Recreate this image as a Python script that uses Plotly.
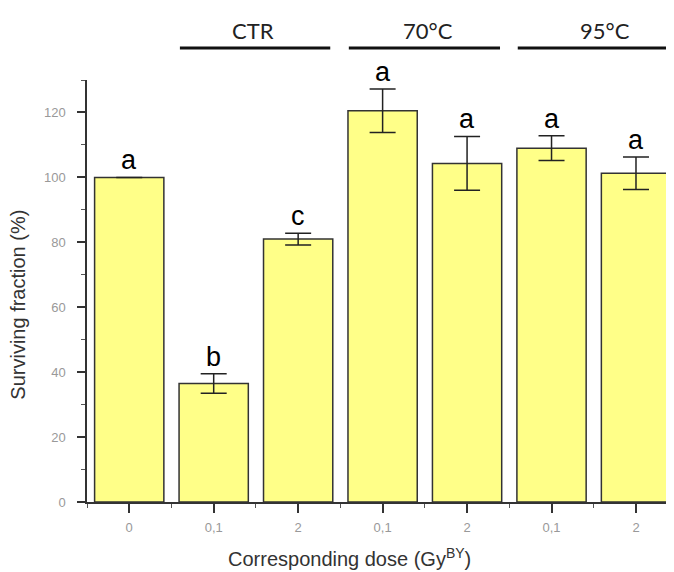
import plotly.graph_objects as go

categories = ["0", "0,1", "2", "0,1", "2", "0,1", "2"]
values = [100, 36.5, 81, 120.5, 104.3, 109, 101.3]
errors = [0, 3, 1.8, 6.7, 8.3, 3.8, 5]
letters = ["a", "b", "c", "a", "a", "a", "a"]
groups = ["CTR", "70°C", "95°C"]
group_spans = [(0.6, 2.38), (2.6, 4.39), (4.6, 6.42)]
group_label_x = [1.46, 3.54, 5.63]
x_title = "Corresponding dose (Gy<sup>BY</sup>)"
y_title = "Surviving fraction (%)"

xpos = list(range(len(categories)))
err_shown = [e if e > 0 else None for e in errors]

fig = go.Figure()
fig.add_trace(go.Bar(
    x=xpos, y=values, width=0.82,
    marker=dict(color="#FFFF88", line=dict(color="#333333", width=1.5)),
    error_y=dict(type="data", array=err_shown, visible=True, color="#222222",
                 thickness=1.5, width=13),
    showlegend=False,
))

for i, (v, e, l) in enumerate(zip(values, errors, letters)):
    fig.add_annotation(x=xpos[i], y=v + e, text=l, showarrow=False,
                       yanchor="bottom", yshift=0,
                       font=dict(family="Liberation Sans, Arial", size=27, color="#000000"))

for (x0, x1), g, gx in zip(group_spans, groups, group_label_x):
    fig.add_shape(type="line", xref="x", yref="paper", x0=x0, x1=x1, y0=1.076, y1=1.076,
                  line=dict(color="#111111", width=3))
    fig.add_annotation(x=gx, y=1.118, xref="x", yref="paper", text=g, showarrow=False,
                       yanchor="middle",
                       font=dict(family="Lato, Open Sans", size=22, color="#222222"))

# axis titles (placed as annotations to match the reference's off-centre positions)
fig.add_annotation(x=0.448, y=-0.132, xref="paper", yref="paper", text=x_title,
                   showarrow=False, xanchor="center", yanchor="middle",
                   font=dict(family="Liberation Sans, Arial", size=20, color="#333333"))
fig.add_annotation(x=-0.118, y=0.467, xref="paper", yref="paper", text=y_title,
                   showarrow=False, textangle=-90, xanchor="center", yanchor="middle",
                   font=dict(family="Liberation Sans, Arial", size=20, color="#333333"))

# page body has an 8px offset, so the figure is sized to fill the rest of the window
fig.update_layout(
    width=666, height=564,
    margin=dict(l=79, r=0, t=72, b=70),
    plot_bgcolor="white", paper_bgcolor="white",
    xaxis=dict(
        range=[-0.5, 6.45], tickmode="array", tickvals=xpos, ticktext=categories,
        showgrid=False, zeroline=False, showline=True, linecolor="#333333", linewidth=1.5,
        ticks="outside", ticklen=9, tickwidth=1.5, tickcolor="#333333",
        tickfont=dict(family="Liberation Sans, Arial", size=13, color="#999999"),
        ticklabelstandoff=4,
        minor=dict(tick0=0.5, dtick=1, ticks="outside", ticklen=4, tickwidth=1, tickcolor="#555555"),
    ),
    yaxis=dict(
        range=[0, 130], tickmode="linear", tick0=0, dtick=20,
        showgrid=False, zeroline=False, showline=True, linecolor="#333333", linewidth=1.5,
        ticks="outside", ticklen=8, tickwidth=1.5, tickcolor="#333333",
        tickfont=dict(family="Liberation Sans, Arial", size=13, color="#999999"),
        ticklabelstandoff=9,
        minor=dict(dtick=10, ticks="outside", ticklen=4, tickwidth=1, tickcolor="#555555"),
    ),
)

fig.write_html("out.html")
